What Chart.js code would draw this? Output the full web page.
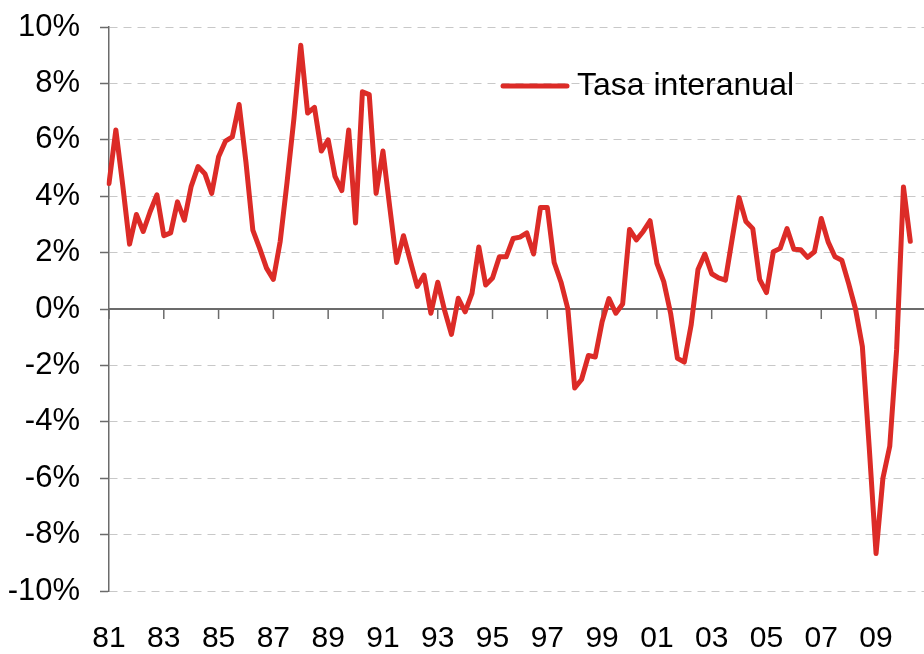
<!DOCTYPE html>
<html>
<head>
<meta charset="utf-8">
<script src="https://cdn.jsdelivr.net/npm/chart.js@4/dist/chart.umd.min.js"></script>
<style>
  body { margin: 0; background: #fff; }
  #wrap { width: 924px; height: 654px; }
</style>
</head>
<body>
<div id="wrap"><canvas id="myChart"></canvas></div>
<script>
// quarterly year-on-year rate, 1981Q1 .. 2010Q2 (axis runs to 2010Q4)
const firstYear = 1981;
const lastYear = 2010;
const tickLabels = ['81', '83', '85', '87', '89', '91', '93', '95', '97', '99', '01', '03', '05', '07', '09'];
const seriesName = 'Tasa interanual';
const tasa = [
    4.45, 6.35, 4.4, 2.3, 3.35, 2.75, 3.45, 4.05,      // 81-82
    2.6, 2.7, 3.8, 3.15, 4.35, 5.05, 4.8, 4.1,         // 83-84
    5.4, 5.95, 6.1, 7.25, 5.2, 2.8, 2.15, 1.45,        // 85-86
    1.05, 2.4, 4.5, 6.75, 9.35, 6.95, 7.15, 5.6,       // 87-88
    6.0, 4.7, 4.2, 6.35, 3.05, 7.7, 7.6, 4.1,          // 89-90
    5.6, 3.6, 1.65, 2.6, 1.7, 0.8, 1.2, -0.15,         // 91-92
    0.95, -0.05, -0.9, 0.38, -0.1, 0.55, 2.2, 0.85,    // 93-94
    1.1, 1.85, 1.85, 2.5, 2.55, 2.7, 1.95, 3.6,        // 95-96
    3.6, 1.65, 0.95, 0.0, -2.8, -2.5, -1.65, -1.7,     // 97-98
    -0.45, 0.37, -0.15, 0.18, 2.82, 2.45, 2.75, 3.13,  // 99-00
    1.62, 0.97, -0.15, -1.75, -1.88, -0.57, 1.4, 1.95, // 01-02
    1.25, 1.1, 1.02, 2.5, 3.95, 3.1, 2.85, 1.05,       // 03-04
    0.58, 2.03, 2.15, 2.85, 2.12, 2.1, 1.83, 2.03,     // 05-06
    3.21, 2.38, 1.85, 1.73, 0.9, 0.0, -1.33, -4.9,     // 07-08
    -8.67, -6.0, -4.87, -1.45, 4.33, 2.4               // 09-10
];

let quarters = [];
for (let yr = firstYear; yr <= lastYear; yr++) {
    for (let q = 1; q <= 4; q++) {
        quarters.push(yr + 'T' + q);
    }
}

const axisColor = '#6b6b6b';
const lineColor = '#dc2b27';
const fontFam = '"Liberation Sans", Arial, sans-serif';

// solid zero line with the year tick marks hanging below it
const zeroAxis = {
    id: 'zeroAxis',
    beforeDatasetsDraw(chart) {
        const { ctx, chartArea, scales: { x, y } } = chart;
        const y0 = y.getPixelForValue(0);
        ctx.save();
        ctx.strokeStyle = axisColor;
        ctx.lineWidth = 2;
        ctx.beginPath();
        ctx.moveTo(chartArea.left, y0);
        ctx.lineTo(chartArea.right, y0);
        ctx.stroke();
        ctx.lineWidth = 1.5;
        ctx.beginPath();
        x.ticks.forEach((t, i) => {
            if (i % 8 === 0) {
                const px = x.getPixelForTick(i);
                ctx.moveTo(px, y0);
                ctx.lineTo(px, y0 + 10);
            }
        });
        ctx.stroke();
        ctx.restore();
    }
};

// legend sits inside the plot, top right
const insideLegend = {
    id: 'insideLegend',
    afterDraw(chart) {
        const { ctx, chartArea } = chart;
        const ds = chart.data.datasets[0];
        const lx = chartArea.left + 394;
        const ly = chartArea.top + 59;
        ctx.save();
        ctx.strokeStyle = ds.borderColor;
        ctx.lineWidth = 5;
        ctx.lineCap = 'round';
        ctx.beginPath();
        ctx.moveTo(lx, ly);
        ctx.lineTo(lx + 64, ly);
        ctx.stroke();
        ctx.fillStyle = '#000';
        ctx.font = '32px ' + fontFam;
        ctx.textBaseline = 'middle';
        ctx.fillText(ds.label, lx + 74, ly);
        ctx.restore();
    }
};

const ctx = document.getElementById('myChart').getContext('2d');
const myChart = new Chart(ctx, {
    type: 'line',
    data: {
        labels: quarters,
        datasets: [{
            label: seriesName,
            data: tasa,
            borderColor: lineColor,
            borderWidth: 5,
            borderJoinStyle: 'round',
            borderCapStyle: 'round',
            pointRadius: 0,
            tension: 0,
            fill: false
        }]
    },
    options: {
        responsive: true,
        maintainAspectRatio: false,
        animation: false,
        layout: { padding: { top: 27, left: 8, right: 0, bottom: 0 } },
        plugins: {
            legend: { display: false },
            tooltip: { enabled: false }
        },
        scales: {
            x: {
                offset: false,
                grid: { display: false, drawTicks: false },
                border: { display: false },
                ticks: {
                    autoSkip: false,
                    maxRotation: 0,
                    padding: 33,
                    color: '#000',
                    font: { family: fontFam, size: 30, lineHeight: 1 },
                    callback: (val, i) => (i % 8 === 0 ? tickLabels[i / 8] : '')
                },
                afterFit: (scale) => {
                    // tick padding gets counted twice by chart.js, pin the box instead
                    scale.height = 63;
                    scale.paddingLeft = 0;
                    scale.paddingRight = 0;
                }
            },
            y: {
                min: -10,
                max: 10,
                grid: {
                    color: '#c8c8c8',
                    lineWidth: 1,
                    tickLength: 9,
                    tickColor: axisColor,
                    tickWidth: 1.5,
                    tickBorderDash: []
                },
                border: { display: true, color: axisColor, width: 1.5, dash: [8, 6] },
                ticks: {
                    stepSize: 2,
                    padding: 20,
                    color: '#000',
                    font: { family: fontFam, size: 31 },
                    callback: (v) => v + '%'
                },
                afterFit: (scale) => {
                    scale.width = 101;
                    scale.paddingTop = 0;
                    scale.paddingBottom = 0;
                }
            }
        }
    },
    plugins: [zeroAxis, insideLegend]
});
</script>
</body>
</html>
